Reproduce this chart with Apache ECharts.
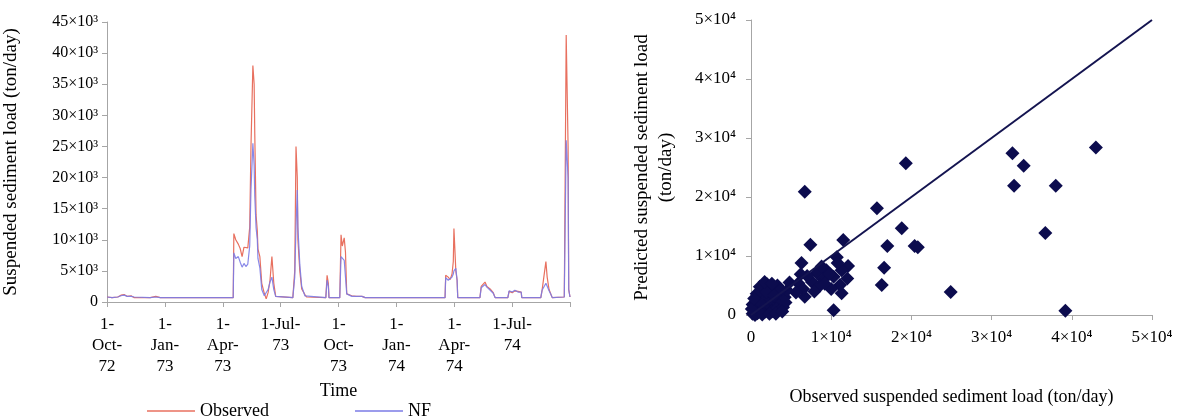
<!DOCTYPE html>
<html>
<head>
<meta charset="utf-8">
<script src="https://cdn.jsdelivr.net/npm/echarts@6/dist/echarts.min.js"></script>
<style>
  html, body { margin: 0; padding: 0; background: #fff; }
  #chart { width: 1178px; height: 418px; }
</style>
</head>
<body>
<div id="chart"></div>
<script>
// days since 1-Oct-72
var days = [0, 8, 17, 22, 27, 32, 38, 43, 68, 77, 84, 125, 128, 132, 199, 200, 203, 207, 210, 213, 216, 219, 222, 225, 227, 230, 232, 233, 235, 237, 238, 241, 244, 248, 251, 254, 257, 260, 263, 266, 293, 296, 298, 300, 301, 304, 307, 312, 315, 345, 347, 349, 350, 367, 369, 371, 374, 376, 378, 386, 389, 393, 402, 404, 407, 533, 534, 538, 541, 544, 546, 547, 550, 552, 553, 588, 590, 593, 596, 599, 602, 605, 609, 612, 632, 634, 639, 643, 648, 653, 654, 684, 686, 689, 692, 694, 697, 700, 702, 721, 724, 727, 728, 730];
var observed = [800, 700, 800, 1100, 1200, 900, 1000, 700, 700, 900, 700, 700, 900, 700, 700, 11000, 10000, 9300, 8600, 7300, 8800, 8500, 8700, 12000, 25000, 38000, 35000, 27000, 14000, 11400, 8500, 7300, 3000, 1400, 500, 1500, 3500, 7300, 3000, 900, 700, 5000, 25000, 20000, 10000, 5000, 2100, 1200, 800, 700, 4300, 3000, 700, 700, 10800, 9000, 10300, 8000, 1300, 1000, 1200, 900, 900, 1100, 700, 700, 4300, 4000, 3600, 4500, 6500, 11800, 5000, 3500, 700, 700, 2500, 2800, 3200, 2500, 2800, 2000, 1500, 700, 700, 1700, 1500, 1800, 1700, 1600, 700, 700, 1900, 2200, 6500, 4000, 2000, 1200, 700, 800, 42900, 25000, 2000, 800];
var nf = [800, 700, 800, 1000, 1100, 900, 900, 800, 700, 800, 700, 700, 900, 700, 700, 7900, 7000, 7300, 6400, 5600, 6200, 5700, 6100, 9000, 18000, 25500, 22000, 17000, 12000, 10000, 7000, 5500, 2000, 1000, 800, 2000, 3200, 4000, 2000, 900, 700, 4000, 12000, 18000, 12000, 6000, 2500, 1000, 800, 700, 3500, 2500, 700, 700, 7300, 7500, 6700, 7000, 1300, 900, 1100, 900, 900, 1000, 700, 700, 3900, 3500, 3800, 4000, 4500, 5000, 5400, 3500, 700, 700, 2300, 2600, 2800, 2400, 2200, 1800, 1400, 700, 700, 1800, 1600, 1900, 1600, 1600, 700, 700, 1900, 2000, 3000, 3200, 1800, 1200, 700, 800, 26000, 20000, 2000, 800];
var timeTicks = ['1-\nOct-\n72', '1-\nJan-\n73', '1-\nApr-\n73', '1-Jul-\n73', '1-\nOct-\n73', '1-\nJan-\n74', '1-\nApr-\n74', '1-Jul-\n74', ''];

// scatter: [observed, predicted]
var scatterPoints = [
  [19300, 25700], [32600, 27400], [34000, 25300], [32800, 21900], [38000, 21900], [43000, 28400],
  [36700, 13900], [39200, 700], [24900, 3900], [18800, 14700], [20400, 11700], [20800, 11500],
  [17000, 11700], [16600, 8000], [16300, 5100], [15700, 18100], [6700, 20900],
  [7400, 11900], [11500, 12700], [10300, 800], [11300, 3700], [6700, 3100], [6300, 8800],
  [10700, 9800], [12100, 8300], [8200, 7100], [9400, 7600], [7600, 5600], [9000, 6000],
  [10300, 6500], [11100, 5100], [5900, 5400], [6500, 4400], [8600, 5000], [10000, 4400],
  [11300, 7600], [12000, 6200], [8800, 8200], [7000, 6600], [9800, 7000], [6200, 6900],
  [10800, 8800], [5600, 3800], [7900, 4000], [9200, 5300],
  [200, 200], [500, 400], [800, 300], [300, 900], [1000, 1000], [1200, 500], [600, 1500],
  [1500, 1200], [200, 1800], [1800, 600], [2000, 2000], [900, 2500], [2500, 1500], [1300, 3000],
  [2200, 3500], [3000, 2500], [1600, 4200], [2800, 4500], [2000, 5200], [1100, 4800], [3500, 3500],
  [3800, 2000], [4200, 3000], [4500, 4200], [3300, 5000], [4800, 5500], [2600, 600], [3200, 1000],
  [4000, 1300], [700, 3600], [1500, 2200], [2400, 2800], [100, 1000], [400, 2800], [3700, 4300],
  [4300, 2100], [1900, 3900], [2900, 3300], [500, 0], [1400, 100], [2300, 200], [3100, 200],
  [3900, 600], [1700, 5600], [2600, 5300]
];
var fitLine = [[0, 0], [50000, 50000]];

var font = 'Liberation Serif';
var axisGray = '#a6a6a6';

var lineObs = days.map(function (d, i) { return [d, observed[i]]; });
var lineNf = days.map(function (d, i) { return [d, nf[i]]; });

var chart = echarts.init(document.getElementById('chart'));
chart.setOption({
  animation: false,
  backgroundColor: '#fff',
  textStyle: { fontFamily: font, color: '#000' },
  grid: [
    { left: 107, top: 22, width: 463, height: 280 },
    { left: 751, top: 20, width: 401, height: 295 }
  ],
  legend: {
    data: ['Observed', 'NF'],
    left: 142, top: 397,
    icon: 'rect', itemWidth: 48, itemHeight: 1.5, itemGap: 86,
    textStyle: { fontFamily: font, fontSize: 18, color: '#000' }
  },
  xAxis: [{
    gridIndex: 0, type: 'value', min: 0, max: 730, interval: 91.25,
    name: 'Time', nameLocation: 'middle', nameGap: 77,
    nameTextStyle: { fontFamily: font, fontSize: 18, color: '#000' },
    axisLine: { lineStyle: { color: axisGray } },
    axisTick: { length: 5, lineStyle: { color: axisGray } },
    axisLabel: {
      margin: 12, fontFamily: font, fontSize: 17, color: '#000', lineHeight: 21,
      formatter: function (v) { return timeTicks[Math.round(v / 91.25)] || ''; }
    },
    splitLine: { show: false }
  }, {
    gridIndex: 1, type: 'value', min: 0, max: 50000, interval: 10000,
    name: 'Observed suspended sediment load (ton/day)', nameLocation: 'middle', nameGap: 73,
    nameTextStyle: { fontFamily: font, fontSize: 18, color: '#000' },
    axisLine: { lineStyle: { color: axisGray } },
    axisTick: { length: 5, lineStyle: { color: axisGray } },
    axisLabel: {
      margin: 14, fontFamily: font, fontSize: 17, color: '#000',
      formatter: function (v) { return v === 0 ? '0' : (v / 10000) + '×10⁴'; }
    },
    splitLine: { show: false }
  }],
  yAxis: [{
    gridIndex: 0, type: 'value', min: 0, max: 45000, interval: 5000,
    name: 'Suspended sediment load (ton/day)', nameLocation: 'middle', nameGap: 86,
    nameTextStyle: { fontFamily: font, fontSize: 19, color: '#000' },
    axisLine: { show: true, lineStyle: { color: axisGray } },
    axisTick: { show: true, length: 5, lineStyle: { color: axisGray } },
    axisLabel: {
      margin: 9, fontFamily: font, fontSize: 16, color: '#000',
      formatter: function (v) { return v === 0 ? '0' : (v / 1000) + '×10³'; }
    },
    splitLine: { show: false }
  }, {
    gridIndex: 1, type: 'value', min: 0, max: 50000, interval: 10000,
    name: 'Predicted suspended sediment load\n(ton/day)', nameLocation: 'middle', nameGap: 73,
    nameTextStyle: { fontFamily: font, fontSize: 19, color: '#000', lineHeight: 24 },
    axisLine: { show: true, lineStyle: { color: axisGray } },
    axisTick: { show: true, length: 5, lineStyle: { color: axisGray } },
    axisLabel: {
      margin: 15, fontFamily: font, fontSize: 17, color: '#000',
      formatter: function (v) { return v === 0 ? '0' : (v / 10000) + '×10⁴'; }
    },
    splitLine: { show: false }
  }],
  series: [{
    name: 'Observed', type: 'line', xAxisIndex: 0, yAxisIndex: 0,
    data: lineObs, symbol: 'none', color: '#e8705f',
    lineStyle: { width: 1.2, color: '#e8705f' }
  }, {
    name: 'NF', type: 'line', xAxisIndex: 0, yAxisIndex: 0,
    data: lineNf, symbol: 'none', color: '#7b7be6',
    lineStyle: { width: 1.2, color: '#7b7be6', opacity: 0.9 }
  }, {
    type: 'scatter', xAxisIndex: 1, yAxisIndex: 1,
    data: scatterPoints, symbol: 'diamond', symbolSize: 14,
    itemStyle: { color: '#0c0c4e', opacity: 1 }
  }, {
    type: 'line', xAxisIndex: 1, yAxisIndex: 1,
    data: fitLine, symbol: 'none', z: 3,
    lineStyle: { width: 2, color: '#141450' }
  }]
});
</script>
</body>
</html>
